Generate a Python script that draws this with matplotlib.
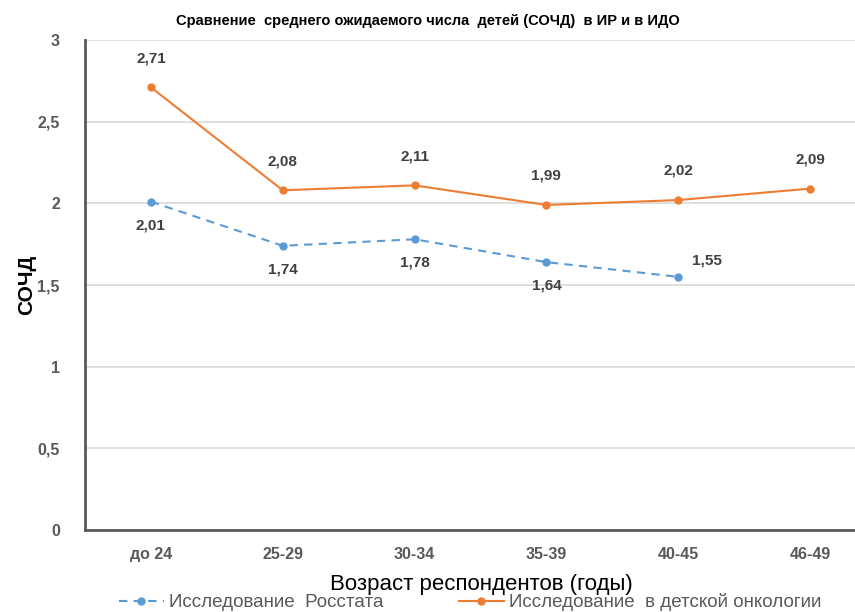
import numpy as np
import matplotlib
matplotlib.use("Agg")
import matplotlib.pyplot as plt

# Data
age_groups = ["до 24", "25-29", "30-34", "35-39", "40-45", "46-49"]
rosstat = [2.01, 1.74, 1.78, 1.64, 1.55]
oncology = [2.71, 2.08, 2.11, 1.99, 2.02, 2.09]
y_ticks = [0, 0.5, 1, 1.5, 2, 2.5, 3]
y_tick_labels = ["0", "0,5", "1", "1,5", "2", "2,5", "3"]

title = "Сравнение  среднего ожидаемого числа  детей (СОЧД)  в ИР и в ИДО"
x_label = "Возраст респондентов (годы)"
y_label = "СОЧД"
rosstat_name = "Исследование  Росстата"
oncology_name = "Исследование  в детской онкологии"

plt.rcParams["font.family"] = ["Liberation Sans", "DejaVu Sans"]

BLUE = "#5b9bd5"
ORANGE = "#ed7d31"
GREY = "#595959"

fig = plt.figure(figsize=(8.55, 6.12), dpi=100)
ax = fig.add_axes([85 / 855, 82 / 612, 791 / 855, 490 / 612])

x = np.arange(len(age_groups))
l1, = ax.plot(x[:len(rosstat)], rosstat, color=BLUE, linestyle=(0, (4, 3)),
              linewidth=1.5, marker="o", markersize=5, label=rosstat_name)
l2, = ax.plot(x, oncology, color=ORANGE, linewidth=1.5, marker="o",
              markersize=5, label=oncology_name)

# value labels
for i, v in enumerate(oncology):
    ax.annotate(f"{v:.2f}".replace(".", ","), (x[i], v), xytext=(0, 16),
                textcoords="offset points", ha="center", va="bottom",
                fontsize=11, fontweight="bold", color="#404040")
for i, v in enumerate(rosstat):
    if i == len(rosstat) - 1:
        ax.annotate(f"{v:.2f}".replace(".", ","), (x[i], v), xytext=(10, 7),
                    textcoords="offset points", ha="left", va="bottom",
                    fontsize=11, fontweight="bold", color="#404040")
    else:
        ax.annotate(f"{v:.2f}".replace(".", ","), (x[i], v), xytext=(0, -12),
                    textcoords="offset points", ha="center", va="top",
                    fontsize=11, fontweight="bold", color="#404040")

ax.set_xlim(-0.5, len(age_groups) - 0.5)
ax.set_ylim(0, 3)
ax.set_yticks(y_ticks)
ax.set_yticklabels(y_tick_labels)
ax.set_xticks(x)
ax.set_xticklabels(age_groups)
ax.tick_params(axis="both", length=0, labelsize=11.5, labelcolor=GREY)
ax.tick_params(axis="x", pad=12)
ax.tick_params(axis="y", pad=18)
for lab in ax.get_xticklabels() + ax.get_yticklabels():
    lab.set_fontweight("bold")

ax.grid(axis="y", color="#d9d9d9", linewidth=1.2)
ax.set_axisbelow(True)
for side in ["top", "right"]:
    ax.spines[side].set_visible(False)
for side in ["left", "bottom"]:
    ax.spines[side].set_color(GREY)
    ax.spines[side].set_linewidth(2)

ax.set_ylabel(y_label, fontsize=15, fontweight="bold")
ax.yaxis.set_label_coords(-0.062, 0.5)

fig.text(0.5, 0.965, title, ha="center", va="center", fontsize=10.5,
         fontweight="bold", color="black")
fig.text(0.563, 0.045, x_label, ha="center", va="center", fontsize=16,
         color="black")

fig.legend(handles=[l1, l2], loc="center", bbox_to_anchor=(0.55, 0.016),
           ncol=2, frameon=False, fontsize=13.5, columnspacing=4,
           handlelength=2.4, handletextpad=0.3, labelcolor=GREY,
           borderpad=0)

fig.savefig("out.png", dpi=100)
